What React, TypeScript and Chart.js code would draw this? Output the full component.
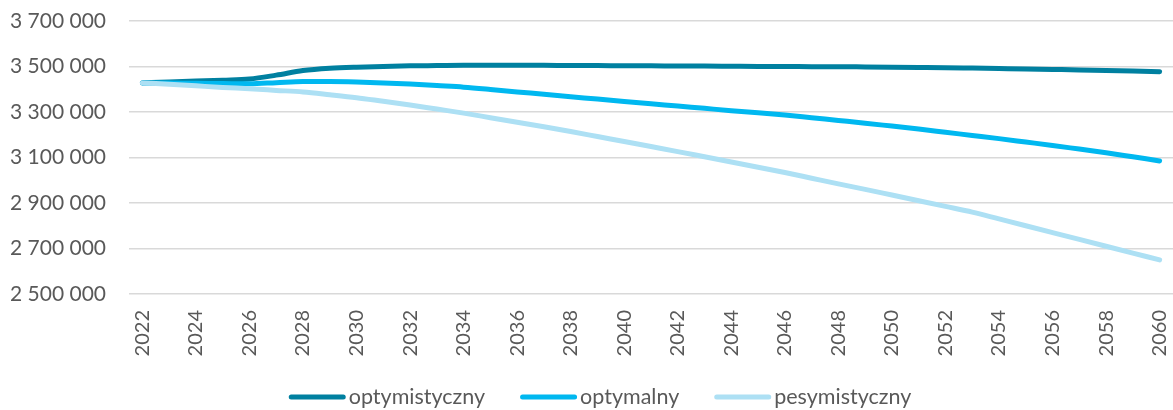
import React, { useEffect, useRef } from "react";
import { Chart, registerables } from "chart.js";

Chart.register(...registerables);

const years: string[] = [];
for (let y = 2022; y <= 2060; y++) years.push(String(y));

const optymistyczny = [
  3428000, 3432000, 3436000, 3440000, 3445000, 3462000, 3482000, 3492000, 3497000, 3500000,
  3503000, 3504000, 3505000, 3505000, 3505000, 3505000, 3504000, 3504000, 3503000, 3503000,
  3502000, 3502000, 3501000, 3500000, 3500000, 3499000, 3499000, 3498000, 3497000, 3496000,
  3495000, 3493000, 3491000, 3489000, 3487000, 3485000, 3482000, 3480000, 3477000,
];

const optymalny = [
  3428000, 3427000, 3426000, 3425000, 3424000, 3429000, 3434000, 3434000, 3432000, 3428000,
  3423000, 3416000, 3409000, 3399000, 3388000, 3378000, 3367000, 3357000, 3346000, 3336000,
  3326000, 3316000, 3306000, 3297000, 3287000, 3275000, 3263000, 3251000, 3238000, 3225000,
  3211000, 3197000, 3183000, 3168000, 3153000, 3137000, 3121000, 3103000, 3085000,
];

const pesymistyczny = [
  3428000, 3422000, 3415000, 3408000, 3402000, 3395000, 3388000, 3376000, 3363000, 3347000,
  3331000, 3313000, 3295000, 3275000, 3255000, 3235000, 3214000, 3192000, 3170000, 3148000,
  3126000, 3103000, 3080000, 3057000, 3034000, 3009000, 2984000, 2960000, 2935000, 2910000,
  2885000, 2860000, 2830000, 2800000, 2770000, 2740000, 2710000, 2680000, 2650000,
];

const seriesNames = ["optymistyczny", "optymalny", "pesymistyczny"];
const seriesColors = ["#0080A0", "#00B8F0", "#ADE0F4"];
const yMin = 2500000;
const yMax = 3700000;
const yStep = 200000;

const FONT = "Lato, 'Open Sans', sans-serif";
const TEXT = "#595959";

function fmt(v: number): string {
  return String(Math.round(v)).replace(/\B(?=(\d{3})+(?!\d))/g, " ");
}

// Legend drawn as a small custom plugin (line sample + text, Excel-like spacing)
const lineLegend = {
  id: "lineLegend",
  afterDraw(chart: any) {
    const ctx = chart.ctx as CanvasRenderingContext2D;
    const fontSize = 21.5;
    const lineLen = 57;
    const gap = 3;
    const spacing = 35;
    const centerX = 600;
    const y = chart.height - 13;
    ctx.save();
    ctx.font = `${fontSize}px ${FONT}`;
    const widths = seriesNames.map((n) => ctx.measureText(n).width);
    const total =
      widths.reduce((a, b) => a + b, 0) + seriesNames.length * (lineLen + gap) + spacing * (seriesNames.length - 1);
    let x = centerX - total / 2;
    seriesNames.forEach((name, i) => {
      ctx.strokeStyle = seriesColors[i];
      ctx.lineWidth = 5;
      ctx.lineCap = "round";
      ctx.beginPath();
      ctx.moveTo(x + 2.5, y);
      ctx.lineTo(x + lineLen - 2.5, y);
      ctx.stroke();
      x += lineLen + gap;
      ctx.fillStyle = TEXT;
      ctx.textAlign = "left";
      ctx.textBaseline = "middle";
      ctx.fillText(name, x, y);
      x += widths[i] + spacing;
    });
    ctx.restore();
  },
};

export default function App() {
  const ref = useRef<HTMLCanvasElement | null>(null);

  useEffect(() => {
    if (!ref.current) return;
    const values = [optymistyczny, optymalny, pesymistyczny];
    const chart = new Chart(ref.current, {
      type: "line",
      data: {
        labels: years,
        datasets: seriesNames.map((name, i) => ({
          label: name,
          data: values[i],
          borderColor: seriesColors[i],
          backgroundColor: seriesColors[i],
          borderWidth: 5,
          pointRadius: 0,
          borderCapStyle: "round" as const,
          borderJoinStyle: "round" as const,
          cubicInterpolationMode: "monotone" as const,
          fill: false,
          order: 2 - i,
        })),
      },
      plugins: [lineLegend],
      options: {
        animation: false,
        responsive: false,
        maintainAspectRatio: false,
        layout: { padding: { left: 10, top: 21, right: 0, bottom: 54 } },
        plugins: {
          tooltip: { enabled: false },
          legend: { display: false },
        },
        scales: {
          x: {
            offset: true,
            grid: { display: false, drawTicks: false },
            border: { display: false },
            afterFit: (s: any) => {
              s.height = 62;
              s.paddingLeft = 0;
              s.paddingRight = 0;
            },
            ticks: {
              autoSkip: false,
              minRotation: 90,
              maxRotation: 90,
              padding: 16,
              color: TEXT,
              font: { family: FONT, size: 20 },
              callback: (_v: any, idx: number) => (idx % 2 === 0 ? years[idx] : ""),
            },
          },
          y: {
            min: yMin,
            max: yMax,
            grid: { color: "#D9D9D9", lineWidth: 1.5, drawTicks: false },
            border: { display: false },
            afterFit: (s: any) => {
              s.width = 119;
              s.paddingTop = 0;
              s.paddingBottom = 0;
            },
            ticks: {
              stepSize: yStep,
              padding: 23,
              color: TEXT,
              font: { family: FONT, size: 21 },
              callback: (v: any) => fmt(Number(v)),
            },
          },
        },
      },
    });
    return () => chart.destroy();
  }, []);

  return (
    <div style={{ position: "fixed", left: 0, top: 0, width: 1173, height: 410, background: "#fff" }}>
      <canvas ref={ref} width={1173} height={410} style={{ display: "block", width: 1173, height: 410 }} />
    </div>
  );
}
